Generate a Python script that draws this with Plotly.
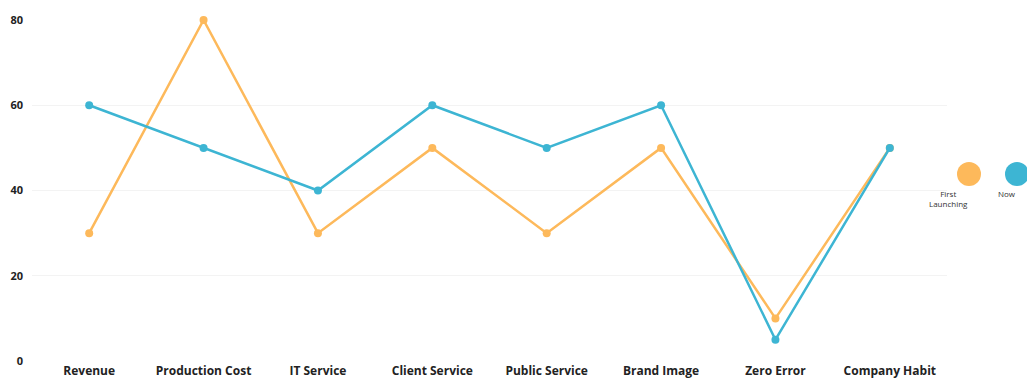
import plotly.graph_objects as go

categories = ["Revenue", "Production Cost", "IT Service", "Client Service",
              "Public Service", "Brand Image", "Zero Error", "Company Habit"]
first_launching = [30, 80, 30, 50, 30, 50, 10, 50]
now = [60, 50, 40, 60, 50, 60, 5, 50]
y_ticks = [0, 20, 40, 60, 80]

ORANGE = "#FDB95B"
BLUE = "#3DB5D3"
FONT = "Open Sans"

fig = go.Figure()
fig.add_trace(go.Scatter(x=categories, y=first_launching, mode="lines+markers",
                         name="First Launching", line=dict(color=ORANGE, width=2.5),
                         marker=dict(color=ORANGE, size=8), cliponaxis=False))
fig.add_trace(go.Scatter(x=categories, y=now, mode="lines+markers",
                         name="Now", line=dict(color=BLUE, width=2.5),
                         marker=dict(color=BLUE, size=8), cliponaxis=False))

fig.update_layout(
    width=1027, height=378,
    margin=dict(l=32, r=80, t=20, b=17),
    paper_bgcolor="white", plot_bgcolor="white",
    showlegend=False,
    font=dict(family=FONT, color="#222222"),
    xaxis=dict(range=[-0.5, 7.5], showgrid=False, zeroline=False, showline=False,
               automargin=False,
               tickfont=dict(family=FONT, size=12, color="#222222", weight="bold"),
               ticks="", ticklabelstandoff=1),
    yaxis=dict(range=[0, 80], tickvals=y_ticks, showgrid=True, gridcolor="#F3F3F3",
               gridwidth=1, zeroline=False, showline=False, ticks="", automargin=False,
               tickfont=dict(family=FONT, size=11, color="#222222", weight="bold"),
               ticklabelstandoff=8),
)

# legend drawn manually
legend = [("First<br>Launching", ORANGE, 969), ("Now", BLUE, 1017)]
for label, color, cx in legend:
    fig.add_shape(type="circle", xref="paper", yref="paper",
                  x0=(cx - 12 - 32) / 915, x1=(cx + 12 - 32) / 915,
                  y0=(361 - 186) / 341, y1=(361 - 162) / 341,
                  fillcolor=color, line=dict(width=0))
    fig.add_annotation(text=label, xref="paper", yref="paper",
                       x=(cx - 32) / 915, y=(361 - 187) / 341, yanchor="top",
                       showarrow=False,
                       font=dict(family=FONT, size=8, color="#333333", lineposition="none"),
                       align="center", borderpad=0)

fig.write_html("out.html")
